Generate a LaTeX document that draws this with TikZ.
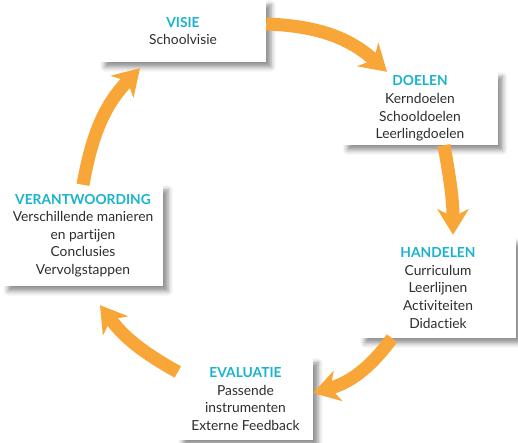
\documentclass[tikz,border=0pt]{standalone}
\usepackage{fontspec}
\setmainfont{Lato}[Ligatures={NoCommon, NoRare}]
\usepackage{xcolor}
\usetikzlibrary{arrows.meta}
\usetikzlibrary{shadows.blur}

\definecolor{vorange}{HTML}{F7A637}
\definecolor{vcyan}{HTML}{19B3CF}
\definecolor{vtext}{HTML}{2E2E2E}
\newcommand{\kop}[1]{\textbf{\textcolor{vcyan}{#1}}}

\begin{document}
\begin{tikzpicture}[x=1pt, y=1pt,
    box/.style={fill=white, inner sep=0pt, align=center, text=vtext,
        font=\fontsize{13.8}{17.6}\selectfont,
        blur shadow={shadow xshift=5pt, shadow yshift=-5pt, shadow blur radius=5pt, shadow opacity=45}},
    flow/.style={draw=vorange, line width=13pt,
        -{Stealth[length=26pt, width=32pt, inset=8pt, line width=0pt, fill=vorange]}}]
    \useasboundingbox (0, 0) rectangle (518, 443);
    \node[box, minimum width=166pt, minimum height=62pt] (visie) at (183, 412) {\kop{VISIE}\\Schoolvisie};
    \node[box, minimum width=155pt, minimum height=73pt] (doelen) at (420, 334.5) {\kop{DOELEN}\\Kerndoelen\\Schooldoelen\\Leerlingdoelen};
    \node[box, minimum width=156pt, minimum height=100pt] (handelen) at (438, 155) {\kop{HANDELEN}\\Curriculum\\Leerlijnen\\Activiteiten\\Didactiek};
    \node[box, minimum width=135pt, minimum height=82pt] (evaluatie) at (245.5, 44) {\kop{EVALUATIE}\\Passende\\instrumenten\\Externe Feedback};
    \node[box, minimum width=160pt, minimum height=101pt] (verantwoording) at (83, 207.5) {\kop{VERANTWOORDING}\\Verschillende manieren\\en partijen\\Conclusies\\Vervolgstappen};
    % cirkel
    \draw[flow] ([yshift=7pt]visie.east) to[out=-2, in=138] ([xshift=-33pt]doelen.north);
    \draw[flow] ([xshift=24pt]doelen.south) to[out=-80, in=90] ([xshift=15pt, yshift=3pt]handelen.north);
    \draw[flow] ([xshift=-46pt]handelen.south) to[out=234, in=16] ([yshift=6pt]evaluatie.east);
    \draw[flow] ([yshift=27pt]evaluatie.west) to[out=151, in=-53] ([xshift=17pt, yshift=-19pt]verantwoording.south);
    \draw[flow] (verantwoording.north) to[out=80, in=226] ([xshift=-43pt, yshift=-6pt]visie.south);
\end{tikzpicture}
\end{document}
